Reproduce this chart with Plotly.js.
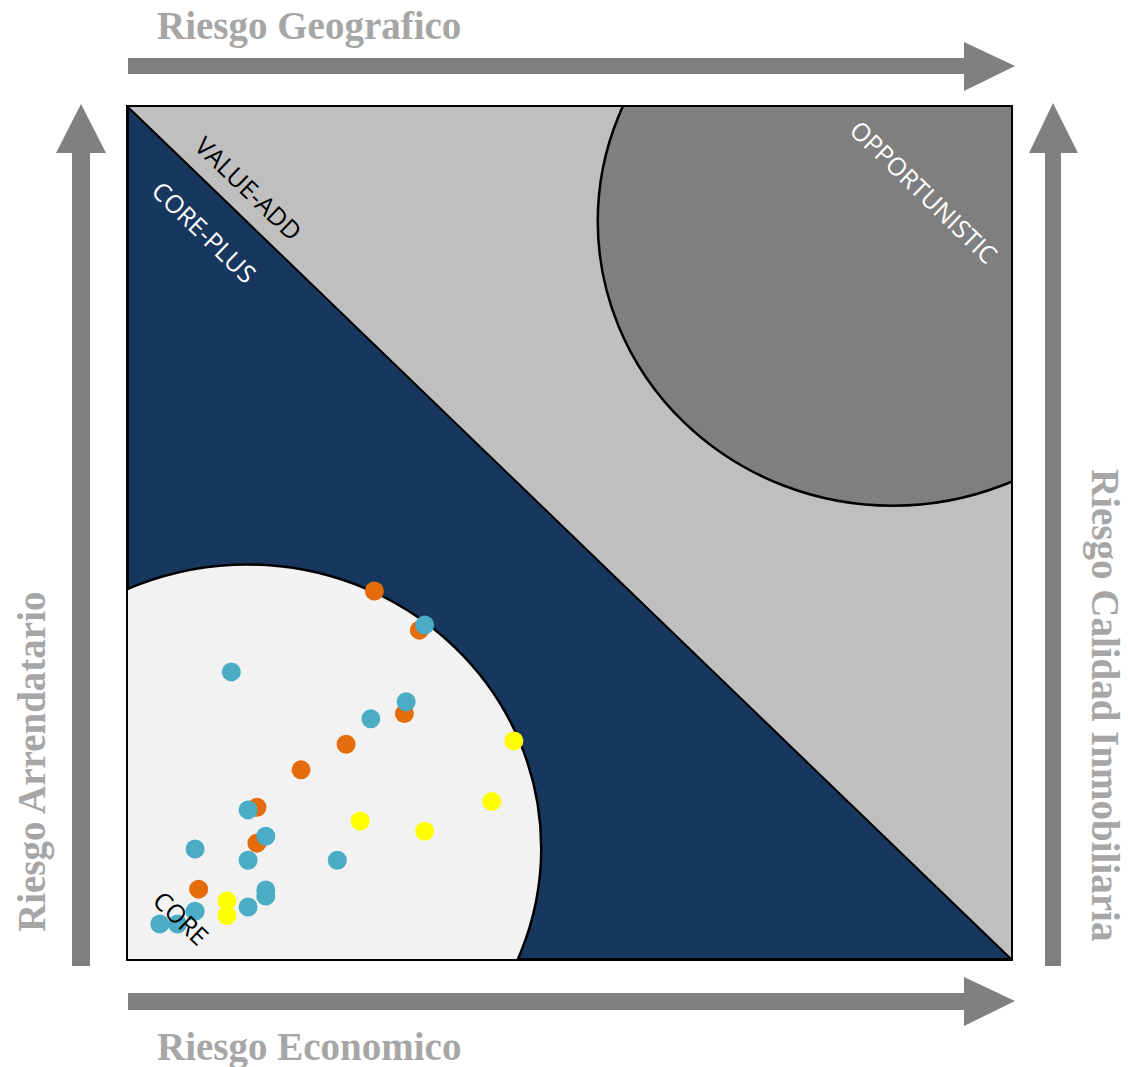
<!DOCTYPE html>
<html>
<head>
<meta charset="utf-8">
<script src="https://cdn.plot.ly/plotly-3.0.1.min.js"></script>
<style>
  html, body { margin: 0; padding: 0; background: #fff; }
  #chart { width: 1128px; height: 1067px; }
</style>
</head>
<body>
<div id="chart"></div>
<script>
// investment points, in 0-100 risk units
var orangeX = [27.9, 33.0, 31.3, 24.7, 19.6, 14.6, 14.6, 8.0];
var orangeY = [43.2, 38.6, 28.8, 25.2, 22.2, 17.8, 13.6, 8.2];

var tealX = [33.6, 11.7, 31.5, 27.5, 13.6, 15.6, 7.6, 13.6, 23.7, 15.6, 15.6, 13.6, 7.6, 3.6, 5.6];
var tealY = [39.2, 33.7, 30.2, 28.2, 17.5, 14.4, 12.9, 11.6, 11.6, 8.1, 7.4, 6.1, 5.6, 4.1, 4.1];

var yellowX = [43.7, 41.2, 26.3, 33.6, 11.2, 11.2];
var yellowY = [25.6, 18.5, 16.2, 15.0, 6.8, 5.1];

var axisTitles = ["Riesgo Geografico", "Riesgo Economico", "Riesgo Arrendatario", "Riesgo Calidad Inmobiliaria"];
var zoneNames = ["VALUE-ADD", "CORE-PLUS", "OPPORTUNISTIC", "CORE"];

// pixel -> paper helpers (plot area 128..1011 x 107..959)
function px(x) { return (x - 128) / 883; }
function py(y) { return (959 - y) / 852; }
function path(pts) {
	return "M " + pts.map(function (p) { return px(p[0]) + "," + py(p[1]); }).join(" L ") + " Z";
}

function pointTrace(xs, ys, color) {
	return {
		x: xs,
		y: ys,
		mode: "markers",
		type: "scatter",
		marker: { color: color, size: 19 },
		hoverinfo: "x+y",
	};
}

var data = [
	pointTrace(orangeX, orangeY, "#E46C0A"),
	pointTrace(tealX, tealY, "#4BACC6"),
	pointTrace(yellowX, yellowY, "#FFFF00"),
];

var arrowStyle = { type: "path", xref: "paper", yref: "paper", fillcolor: "#808080", line: { width: 0 }, layer: "above" };

var shapes = [
	// opportunistic circle
	{ type: "circle", xref: "x", yref: "y", x0: 53.2, x1: 120.0, y0: 53.2, y1: 120.0,
		fillcolor: "#7F7F7F", line: { color: "#000", width: 2.5 }, layer: "below" },
	// core-plus triangle
	{ type: "path", xref: "x", yref: "y", path: "M 0,0 L 0,100 L 100,0 Z",
		fillcolor: "#17375E", line: { color: "#000", width: 2 }, layer: "below" },
	// core circle
	{ type: "circle", xref: "x", yref: "y", x0: -19.8, x1: 46.8, y0: -20.3, y1: 46.3,
		fillcolor: "#F2F2F2", line: { color: "#000", width: 2.5 }, layer: "below" },
	// arrows
	Object.assign({ path: path([[128, 58], [964, 58], [964, 42], [1015, 66], [964, 91], [964, 74], [128, 74]]) }, arrowStyle),
	Object.assign({ path: path([[128, 993], [964, 993], [964, 977], [1015, 1001], [964, 1026], [964, 1010], [128, 1010]]) }, arrowStyle),
	Object.assign({ path: path([[72, 966], [72, 153], [56, 153], [81, 104], [106, 153], [90, 153], [90, 966]]) }, arrowStyle),
	Object.assign({ path: path([[1045, 966], [1045, 153], [1029, 153], [1053, 103], [1078, 153], [1061, 153], [1061, 966]]) }, arrowStyle),
];

var titleFont = { family: "Liberation Serif", size: 39, color: "#A6A6A6", weight: "bold" };
var zoneFont = { family: "Open Sans", size: 25 };

var annotations = [
	{ xref: "paper", yref: "paper", x: px(155), y: py(26), xanchor: "left", yanchor: "middle",
		text: "<b>" + axisTitles[0] + "</b>", showarrow: false, font: titleFont },
	{ xref: "paper", yref: "paper", x: px(155), y: py(1047), xanchor: "left", yanchor: "middle",
		text: "<b>" + axisTitles[1] + "</b>", showarrow: false, font: titleFont },
	{ xref: "paper", yref: "paper", x: px(32), y: py(762), xanchor: "center", yanchor: "middle", textangle: -90,
		text: "<b>" + axisTitles[2] + "</b>", showarrow: false, font: titleFont },
	{ xref: "paper", yref: "paper", x: px(1105), y: py(705), xanchor: "center", yanchor: "middle", textangle: 90,
		text: "<b>" + axisTitles[3] + "</b>", showarrow: false, font: titleFont },
	{ x: 13.7, y: 90.5, text: zoneNames[0], textangle: 44, showarrow: false,
		font: Object.assign({ color: "#000" }, zoneFont) },
	{ x: 8.7, y: 85.3, text: zoneNames[1], textangle: 44, showarrow: false,
		font: Object.assign({ color: "#fff" }, zoneFont) },
	{ x: 90.1, y: 90.1, text: zoneNames[2], textangle: 44, showarrow: false,
		font: Object.assign({ color: "#fff" }, zoneFont) },
	{ x: 6.1, y: 4.8, text: zoneNames[3], textangle: 44, showarrow: false,
		font: Object.assign({ color: "#000" }, zoneFont) },
];

var axisStyle = {
	range: [0, 100],
	showgrid: false,
	zeroline: false,
	showticklabels: false,
	ticks: "",
	showline: true,
	mirror: true,
	linecolor: "#000",
	linewidth: 2,
	fixedrange: true,
};

var layout = {
	width: 1128,
	height: 1067,
	margin: { l: 128, r: 117, t: 107, b: 108 },
	paper_bgcolor: "#fff",
	plot_bgcolor: "#BFBFBF",
	showlegend: false,
	xaxis: axisStyle,
	yaxis: axisStyle,
	shapes: shapes,
	annotations: annotations,
};

var config = {
	responsive: false,
	displayModeBar: false,
	displaylogo: false,
	staticPlot: true,
};

Plotly.newPlot("chart", data, layout, config);
</script>
</body>
</html>
